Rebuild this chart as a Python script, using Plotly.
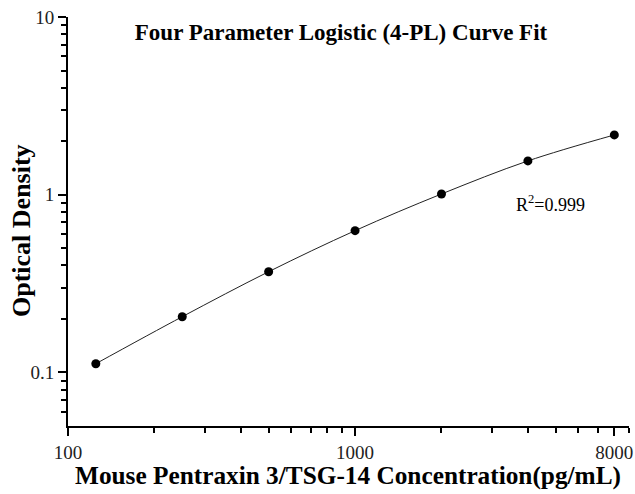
import math
import plotly.graph_objects as go

# Data
concentration = [125, 250, 500, 1000, 2000, 4000, 8000]
optical_density = [0.112, 0.206, 0.369, 0.628, 1.01, 1.55, 2.17]
x_tick_vals = [100, 1000, 8000]
x_tick_text = ["100", "1000", "8000"]
x_minor_vals = [200, 300, 400, 500, 600, 700, 800, 900, 2000, 3000, 4000, 5000, 6000, 7000, 9000]
y_tick_vals = [0.1, 1, 10]
y_tick_text = ["0.1", "1", "10"]
y_minor_vals = [0.06, 0.07, 0.08, 0.09, 0.2, 0.3, 0.4, 0.5, 0.6, 0.7, 0.8, 0.9,
                2, 3, 4, 5, 6, 7, 8, 9]
title_text = "Four Parameter Logistic (4-PL) Curve Fit"
x_title = "Mouse Pentraxin 3/TSG-14 Concentration(pg/mL)"
y_title = "Optical Density"
r2_text = "R<sup>2</sup>=0.999"

SERIF = "Liberation Serif, Times New Roman, serif"
W, H = 635, 494
PX0, PX1, PY0, PY1 = 68, 629, 17, 426  # plot area in page pixels
L, R, T, B = PX0, W - PX1, PY0, H - PY1


def px(xp):
    return (xp - PX0) / (PX1 - PX0)


def py(yp):
    return (PY1 - yp) / (PY1 - PY0)


fig = go.Figure()
fig.add_trace(go.Scatter(
    x=concentration, y=optical_density,
    mode="lines",
    line=dict(color="#222222", width=1, shape="spline", smoothing=1.0),
    hoverinfo="skip", showlegend=False,
))
fig.add_trace(go.Scatter(
    x=concentration, y=optical_density,
    mode="markers",
    marker=dict(color="black", size=9),
    showlegend=False,
))

axis_common = dict(
    showgrid=False, zeroline=False, showline=True, linecolor="black", linewidth=2,
    ticks="outside", ticklen=8, tickwidth=2, tickcolor="black",
    tickfont=dict(family=SERIF, size=19, color="#222222"),
    ticklabeloverflow="allow",
    mirror=False, automargin=False,
)

fig.update_xaxes(
    type="log", range=[2, math.log10(9000)],
    tickmode="array", tickvals=x_tick_vals, ticktext=x_tick_text,
    minor=dict(tickmode="array", tickvals=x_minor_vals, ticks="outside", ticklen=5,
               tickwidth=2, tickcolor="black", showgrid=False),
    **axis_common,
)
fig.update_yaxes(
    type="log", range=[math.log10(0.05), 1],
    tickmode="array", tickvals=y_tick_vals, ticktext=y_tick_text,
    minor=dict(tickmode="array", tickvals=y_minor_vals, ticks="outside", ticklen=5,
               tickwidth=2, tickcolor="black", showgrid=False),
    **axis_common,
)

fig.add_annotation(
    x=px(514), y=py(203), xref="paper", yref="paper",
    text=r2_text, showarrow=False, xanchor="left", yanchor="middle",
    font=dict(family=SERIF, size=18, color="black"),
)
# axis titles
fig.add_annotation(
    x=px(348), y=py(475), xref="paper", yref="paper",
    text="<b>" + x_title + "</b>", showarrow=False, xanchor="center", yanchor="middle",
    font=dict(family=SERIF, size=25.3, color="black"),
)
fig.add_annotation(
    x=px(21), y=py(231), xref="paper", yref="paper", textangle=-90,
    text="<b>" + y_title + "</b>", showarrow=False, xanchor="center", yanchor="middle",
    font=dict(family=SERIF, size=26, color="black"),
)

fig.update_layout(
    width=W, height=H,
    margin=dict(l=L, r=R, t=T, b=B, autoexpand=False),
    paper_bgcolor="white", plot_bgcolor="white",
    title=dict(text="<b>" + title_text + "</b>", x=341 / W, xanchor="center",
               y=1 - 32 / H, yanchor="middle",
               font=dict(family=SERIF, size=23, color="black")),
)

fig.write_html("out.html", config={"displayModeBar": False},
               post_script="document.body.style.margin='0';document.body.style.overflow='hidden';")
